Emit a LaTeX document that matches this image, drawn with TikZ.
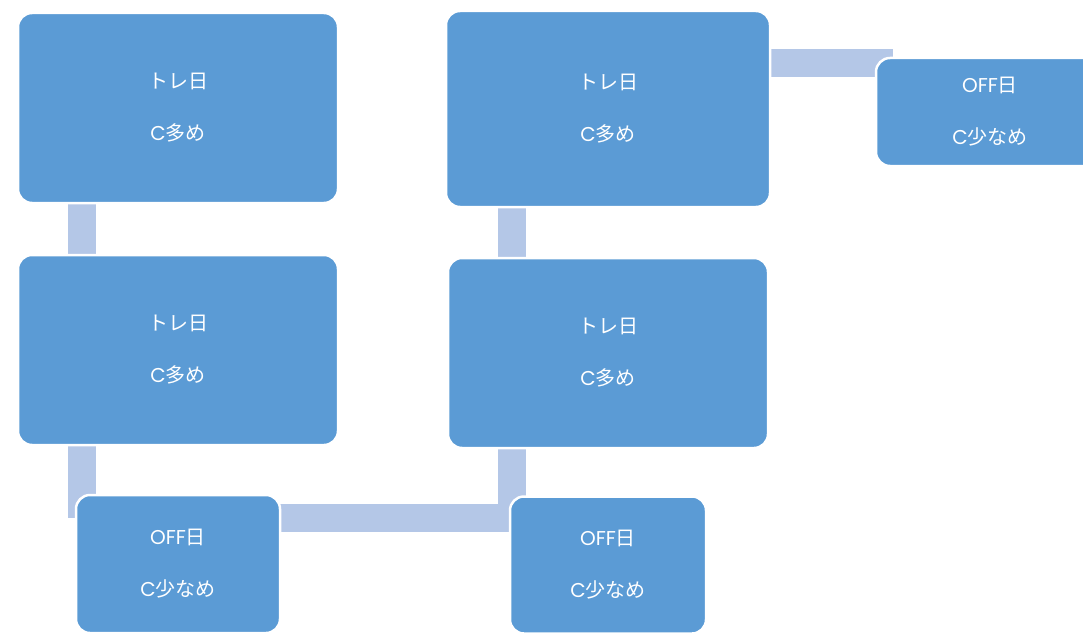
\documentclass[tikz,border=0pt]{standalone}
\usepackage{fontspec}
\setmainfont{Poppins}
\newfontfamily\jp{Noto Sans CJK JP}
\usetikzlibrary{backgrounds}
\definecolor{BoxBlue}{HTML}{5B9BD5}
\definecolor{BarBlue}{HTML}{B4C7E7}

\begin{document}
\begin{tikzpicture}[x=1pt, y=-1pt,
                box/.style={draw=white, line width=2.5pt, rounded corners=14pt,
                            fill=BoxBlue, text=white, align=center, inner sep=0pt,
                            font=\fontsize{20}{52}\selectfont},
                link/.style={draw=BarBlue, line width=28pt}]
                \useasboundingbox (0,0) rectangle (1083,634);

                % left column
                \node[box, minimum width=320pt, minimum height=190pt] (tre1) at (178,108) {{\jp トレ日}\\C{\jp 多め}};
                \node[box, minimum width=320pt, minimum height=190pt] (tre2) at (178,350) {{\jp トレ日}\\C{\jp 多め}};
                \node[box, minimum width=204pt, minimum height=138pt] (off1) at (178,564) {OFF{\jp 日}\\C{\jp 少なめ}};
                % right column
                \node[box, minimum width=196pt, minimum height=137pt] (off2) at (608,565) {OFF{\jp 日}\\C{\jp 少なめ}};
                \node[box, minimum width=320pt, minimum height=190pt] (tre4) at (608,353) {{\jp トレ日}\\C{\jp 多め}};
                \node[box, minimum width=324pt, minimum height=196pt] (tre3) at (608,109) {{\jp トレ日}\\C{\jp 多め}};
                \node[box, minimum width=228pt, minimum height=108pt] (off3) at (990,112) {OFF{\jp 日}\\C{\jp 少なめ}};

                \begin{scope}[on background layer]
                    \coordinate (j1) at (82,518);
                    \coordinate (j2) at (512,518);
                    \coordinate (k)  at (893,63);
                    \draw[link] ([xshift=-96pt]tre1.south) -- ([xshift=-96pt]tre2.north);
                    \draw[link] ([xshift=-96pt]tre2.south) -- (j1);
                    \draw[link] (j1) -- (j2) -- ([xshift=-96pt]tre4.south);
                    \draw[link] ([xshift=-96pt]tre4.north) -- ([xshift=-96pt]tre3.south);
                    \draw[link] (tre3.east |- k) -- (k);
                \end{scope}
            \end{tikzpicture}
\end{document}
